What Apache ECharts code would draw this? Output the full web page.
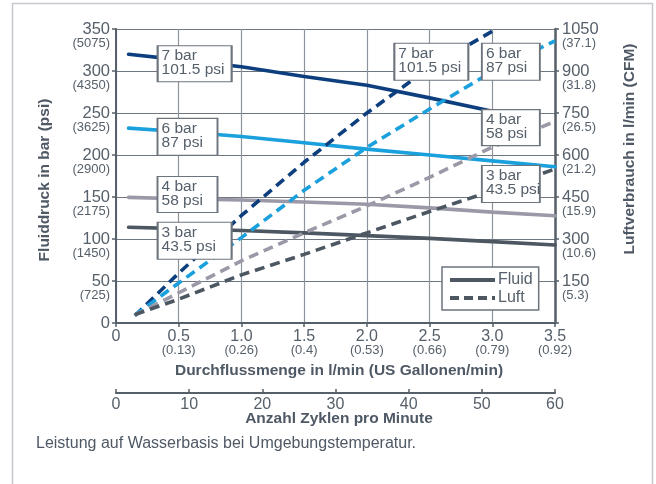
<!DOCTYPE html>
<html>
<head>
<meta charset="utf-8">
<script src="https://cdn.jsdelivr.net/npm/echarts@6/dist/echarts.min.js"></script>
<style>
html,body{margin:0;padding:0;background:#fff;}
#chart{width:656px;height:484px;}
</style>
</head>
<body>
<div id="chart"></div>
<script>
// ---- data ----
const xTicks = [0, 0.5, 1.0, 1.5, 2.0, 2.5, 3.0, 3.5];
const xMainLabels = ['0', '0.5', '1.0', '1.5', '2.0', '2.5', '3.0', '3.5'];
const xSubLabels = ['', '(0.13)', '(0.26)', '(0.4)', '(0.53)', '(0.66)', '(0.79)', '(0.92)'];
const yLeftTicks = [0, 50, 100, 150, 200, 250, 300, 350];
const yLeftSub = ['', '(725)', '(1450)', '(2175)', '(2900)', '(3625)', '(4350)', '(5075)'];
const yRightTicks = [0, 150, 300, 450, 600, 750, 900, 1050];
const yRightSub = ['', '(5.3)', '(10.6)', '(15.9)', '(21.2)', '(26.5)', '(31.8)', '(37.1)'];
const cycleTicks = [0, 10, 20, 30, 40, 50, 60];

// Fluid pressure (bar) vs flow (l/min)
const fluidX = [0.1, 0.5, 1.0, 1.5, 2.0, 2.5, 3.0, 3.5];
const fluid7 = [320, 313.5, 305, 293.5, 283, 268, 252, null];
const fluid6 = [232, 228, 222, 214.5, 207, 200, 193, 186];
const fluid4 = [149.6, 148, 146.5, 144, 141.3, 137, 132, 127.6];
const fluid3 = [114, 112.3, 110.2, 107.3, 104, 100.8, 96.9, 92.9];

// Air consumption (l/min) vs flow (l/min)
const airX = [0.15, 0.5, 1.0, 1.5, 2.0, 2.5, 3.0, 3.5];
const air7 = [26, 178, 384, 574, 750, 912, 1042, null];
const air6 = [28, 143, 305, 474, 627, 764, 898, 1008];
const air4 = [28, 108, 222, 322, 418, 520, 628, 720];
const air3 = [30, 85, 172, 245, 322, 398, 472, 550];

const pressureNames = ['7 bar\n101.5 psi', '6 bar\n87 psi', '4 bar\n58 psi', '3 bar\n43.5 psi'];

// ---- styling ----
const FONT = "'Liberation Sans', Arial, sans-serif";
const TXT = '#56606b';
const AXIS = '#56606a';
const TITLE = '#4f5965';
const C7 = '#0d3f7e', C6 = '#1aa0dc', C4 = '#9b99a7', C3 = '#4c5762';

function pairs(xs, ys) {
  const out = [];
  for (let i = 0; i < xs.length; i++) if (ys[i] !== null) out.push([xs[i], ys[i]]);
  return out;
}
function idx(arr, v) {
  for (let i = 0; i < arr.length; i++) if (Math.abs(arr[i] - v) < 1e-6) return i;
  return -1;
}

const fluidSeries = (name, data, color) => ({
  name, type: 'line', xAxisIndex: 0, yAxisIndex: 0,
  data: pairs(fluidX, data), showSymbol: false, symbol: 'none', silent: true,
  lineStyle: { color, width: 3.6, cap: 'round' }, z: 3
});
const airSeries = (name, data, color) => ({
  name, type: 'line', xAxisIndex: 0, yAxisIndex: 1,
  data: pairs(airX, data), showSymbol: false, symbol: 'none', silent: true,
  lineStyle: { color, width: 3.6, type: [10, 6], cap: 'butt' }, z: 3
});

const boxStyle = { color: '#ffffff', borderColor: '#6c747d', borderWidth: 1.5 };
const boxLabel = {
  show: true, position: [5, 4], align: 'left', verticalAlign: 'top',
  formatter: p => p.name, color: TXT, fontFamily: FONT, fontSize: 15.5, lineHeight: 14
};

const air3Series = airSeries('Luft 3 bar', air3, C3);
air3Series.markPoint = {
  symbol: 'rect', silent: true, z: 20,
  itemStyle: boxStyle, label: boxLabel,
  data: [
    { name: pressureNames[0], coord: [0.627, 926], symbolSize: [74, 36] },
    { name: pressureNames[1], coord: [0.57, 665], symbolSize: [60, 37] },
    { name: pressureNames[2], coord: [0.57, 459], symbolSize: [60, 36] },
    { name: pressureNames[3], coord: [0.627, 294], symbolSize: [74, 37] },
    { name: pressureNames[0], coord: [2.514, 933], symbolSize: [74, 37] },
    { name: pressureNames[1], coord: [3.148, 933], symbolSize: [58, 37] },
    { name: pressureNames[2], coord: [3.148, 698], symbolSize: [58, 36] },
    { name: pressureNames[3], coord: [3.148, 496.5], symbolSize: [58, 37] }
  ]
};

const chart = echarts.init(document.getElementById('chart'), null, { renderer: 'canvas' });

const option = {
  backgroundColor: '#ffffff',
  animation: false,
  textStyle: { fontFamily: FONT },
  grid: [
    { left: 116, top: 29, width: 439, height: 294, containLabel: false },
    { left: 116, top: 392, width: 439, height: 1, containLabel: false }
  ],
  xAxis: [
    {
      gridIndex: 0, type: 'value', min: 0, max: 3.5, interval: 0.5,
      axisLine: { show: true, onZero: false, lineStyle: { color: AXIS, width: 2 } },
      axisTick: { show: true, length: 4, lineStyle: { color: AXIS, width: 1.5 } },
      splitLine: { show: true, lineStyle: { color: '#8e949b', width: 1.2 } },
      axisLabel: {
        margin: 6, color: TXT, fontFamily: FONT,
        formatter: v => {
          const i = idx(xTicks, v);
          if (i < 0) return '';
          return xSubLabels[i] ? '{a|' + xMainLabels[i] + '}\n{b|' + xSubLabels[i] + '}' : '{a|' + xMainLabels[i] + '}';
        },
        rich: {
          a: { fontSize: 16, lineHeight: 15, color: TXT, fontFamily: FONT },
          b: { fontSize: 13, lineHeight: 13, color: TXT, fontFamily: FONT }
        }
      }
    },
    {
      gridIndex: 1, type: 'value', min: 0, max: 60, interval: 10,
      axisLine: { show: true, onZero: false, lineStyle: { color: AXIS, width: 2 } },
      axisTick: { show: true, inside: true, length: 4, lineStyle: { color: AXIS, width: 1.5 } },
      splitLine: { show: false },
      axisLabel: {
        margin: 4, color: TXT, fontFamily: FONT, fontSize: 16,
        formatter: v => (idx(cycleTicks, v) >= 0 ? String(v) : '')
      }
    }
  ],
  yAxis: [
    {
      gridIndex: 0, type: 'value', min: 0, max: 350, interval: 50, position: 'left',
      axisLine: { show: true, onZero: false, lineStyle: { color: AXIS, width: 2 } },
      axisTick: { show: true, length: 4, lineStyle: { color: AXIS, width: 1.5 } },
      splitLine: { show: true, lineStyle: { color: '#6e767f', width: 1.2 } },
      axisLabel: {
        margin: 6, color: TXT, fontFamily: FONT, align: 'right',
        formatter: v => {
          const i = idx(yLeftTicks, v);
          if (i < 0) return '';
          return yLeftSub[i] ? '{c| }\n{a|' + v + '}\n{b|' + yLeftSub[i] + '}' : '{a|' + v + '}';
        },
        rich: {
          a: { fontSize: 16.5, lineHeight: 15, color: TXT, fontFamily: FONT, align: 'right' },
          b: { fontSize: 13, lineHeight: 13, color: TXT, fontFamily: FONT, align: 'right' },
          c: { fontSize: 10, lineHeight: 13 }
        }
      }
    },
    {
      gridIndex: 0, type: 'value', min: 0, max: 1050, interval: 150, position: 'right',
      axisLine: { show: true, onZero: false, lineStyle: { color: AXIS, width: 2.5 } },
      axisTick: { show: true, length: 4, lineStyle: { color: AXIS, width: 1.5 } },
      splitLine: { show: false },
      axisLabel: {
        margin: 7, color: TXT, fontFamily: FONT, align: 'left',
        formatter: v => {
          const i = idx(yRightTicks, v);
          if (i <= 0) return '';
          return '{c| }\n{a|' + v + '}\n{b|' + yRightSub[i] + '}';
        },
        rich: {
          a: { fontSize: 16.5, lineHeight: 15, color: TXT, fontFamily: FONT, align: 'left' },
          b: { fontSize: 13, lineHeight: 13, color: TXT, fontFamily: FONT, align: 'left' },
          c: { fontSize: 10, lineHeight: 13 }
        }
      }
    },
    { gridIndex: 1, type: 'value', min: 0, max: 1, show: false }
  ],
  legend: {
    show: true, orient: 'vertical', left: 442, top: 267,
    data: [
      { name: 'Fluid', itemStyle: { opacity: 0 }, lineStyle: { color: C3, width: 4, type: 'solid' } },
      { name: 'Luft', itemStyle: { opacity: 0 }, lineStyle: { color: C3, width: 4, type: [9, 5] } }
    ],
    backgroundColor: '#ffffff', borderColor: '#6c747d', borderWidth: 1.5,
    padding: [5, 6, 4, 6], itemGap: 2, itemWidth: 45, itemHeight: 14,
    textStyle: { color: TXT, fontFamily: FONT, fontSize: 16, lineHeight: 16, padding: [0, 0, 0, -2] },
    selectedMode: false, z: 10
  },
  series: [
    { name: 'Fluid', type: 'line', data: [], symbol: 'none', showSymbol: false, lineStyle: { color: C3, width: 4 }, itemStyle: { color: C3 } },
    { name: 'Luft', type: 'line', data: [], symbol: 'none', showSymbol: false, lineStyle: { color: C3, width: 4, type: [9, 5] }, itemStyle: { color: C3 } },
    { type: 'line', xAxisIndex: 1, yAxisIndex: 2, data: [], symbol: 'none' },
    fluidSeries('Fluid 7 bar', fluid7, C7),
    fluidSeries('Fluid 6 bar', fluid6, C6),
    fluidSeries('Fluid 4 bar', fluid4, C4),
    fluidSeries('Fluid 3 bar', fluid3, C3),
    airSeries('Luft 7 bar', air7, C7),
    airSeries('Luft 6 bar', air6, C6),
    airSeries('Luft 4 bar', air4, C4),
    air3Series
  ],
  graphic: [
    {
      type: 'rect', z: -10, silent: true,
      shape: { x: 12.5, y: 3.5, width: 640, height: 500 },
      style: { fill: 'none', stroke: '#c4c8cd', lineWidth: 1.5 }
    },
    {
      type: 'text', x: 45, y: 180, rotation: Math.PI / 2, silent: true,
      style: { text: 'Fluiddruck in bar (psi)', font: 'bold 15.5px ' + FONT, fill: TITLE, textAlign: 'center', textVerticalAlign: 'middle' }
    },
    {
      type: 'text', x: 630, y: 149, rotation: Math.PI / 2, silent: true,
      style: { text: 'Luftverbrauch in l/min (CFM)', font: 'bold 15.5px ' + FONT, fill: TITLE, textAlign: 'center', textVerticalAlign: 'middle' }
    },
    {
      type: 'text', x: 339, y: 371, silent: true,
      style: { text: 'Durchflussmenge in l/min (US Gallonen/min)', font: 'bold 15.5px ' + FONT, fill: TITLE, textAlign: 'center', textVerticalAlign: 'middle' }
    },
    {
      type: 'text', x: 339, y: 419, silent: true,
      style: { text: 'Anzahl Zyklen pro Minute', font: 'bold 15.5px ' + FONT, fill: TITLE, textAlign: 'center', textVerticalAlign: 'middle' }
    },
    {
      type: 'text', x: 36, y: 444, silent: true,
      style: { text: 'Leistung auf Wasserbasis bei Umgebungstemperatur.', font: '16px ' + FONT, fill: TITLE, textAlign: 'left', textVerticalAlign: 'middle' }
    }
  ]
};

chart.setOption(option);
</script>
</body>
</html>
